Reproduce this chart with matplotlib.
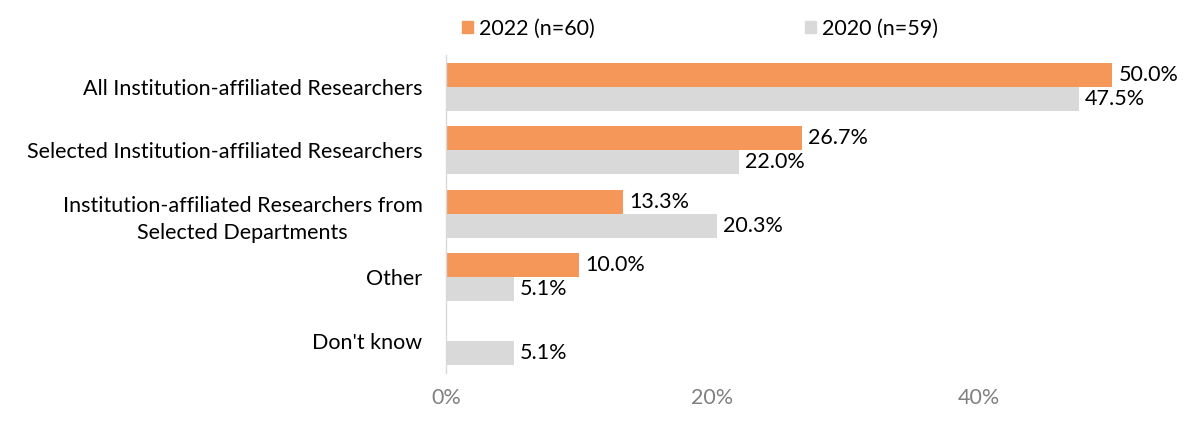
import matplotlib
matplotlib.use("Agg")
import matplotlib.pyplot as plt
import matplotlib.transforms as mtransforms
import numpy as np
from matplotlib.patches import Patch

categories = ["All Institution-affiliated Researchers",
              "Selected Institution-affiliated Researchers",
              "Institution-affiliated Researchers from\nSelected Departments",
              "Other",
              "Don't know"]
values_2022 = [50.0, 26.7, 13.3, 10.0, None]
values_2020 = [47.5, 22.0, 20.3, 5.1, 5.1]
series_labels = ["2022 (n=60)", "2020 (n=59)"]
xticks = [0, 20, 40]
xtick_labels = ["0%", "20%", "40%"]

plt.rcParams['font.family'] = ['Lato', 'DejaVu Sans']
FS = 15.5

fig = plt.figure(figsize=(12, 4.3), dpi=100)
W, H = 1200, 430
ax = fig.add_axes([446 / W, 1 - 372.5 / H, (1179 - 446) / W, (372.5 - 55) / H])

orange = "#F6975A"
grey = "#D9D9D9"
bh = 0.378
y = np.arange(len(categories))

for i, (a, b) in enumerate(zip(values_2022, values_2020)):
    if a is not None:
        ax.barh(i - bh / 2, a, height=bh, color=orange)
        ax.text(a + 0.45, i - bh / 2, f"{a:.1f}%", va='center', ha='left', fontsize=FS, color='black')
    ax.barh(i + bh / 2, b, height=bh, color=grey)
    ax.text(b + 0.45, i + bh / 2, f"{b:.1f}%", va='center', ha='left', fontsize=FS, color='black')

ax.set_xlim(0, 55)
ax.set_ylim(len(categories) - 0.5, -0.5)
ax.set_yticks(y)
ax.set_yticklabels(categories, fontsize=FS, color='black', multialignment='center')
offset = mtransforms.ScaledTranslation(0, 3 / 100, fig.dpi_scale_trans)
for lab in ax.get_yticklabels():
    lab.set_linespacing(1.45)
    lab.set_transform(lab.get_transform() + offset)
ax.set_xticks(xticks)
ax.set_xticklabels(xtick_labels, fontsize=FS, color='#808080')
ax.tick_params(axis='both', length=0)
ax.tick_params(axis='y', pad=17)
ax.tick_params(axis='x', pad=11)
for s in ['top', 'right', 'bottom']:
    ax.spines[s].set_visible(False)
ax.spines['left'].set_color('#D9D9D9')
ax.spines['left'].set_linewidth(1)

# Legend (two entries placed at their reference positions)
for lbl, col, x0 in [(series_labels[0], orange, 462), (series_labels[1], grey, 805)]:
    fig.legend([Patch(color=col)], [lbl], loc='center left', bbox_to_anchor=(x0 / W, 1 - 28.5 / H),
               frameon=False, fontsize=FS, handlelength=0.5, handleheight=0.5,
               handletextpad=0.3, borderpad=0, borderaxespad=0)

fig.savefig("out.png", dpi=100)
